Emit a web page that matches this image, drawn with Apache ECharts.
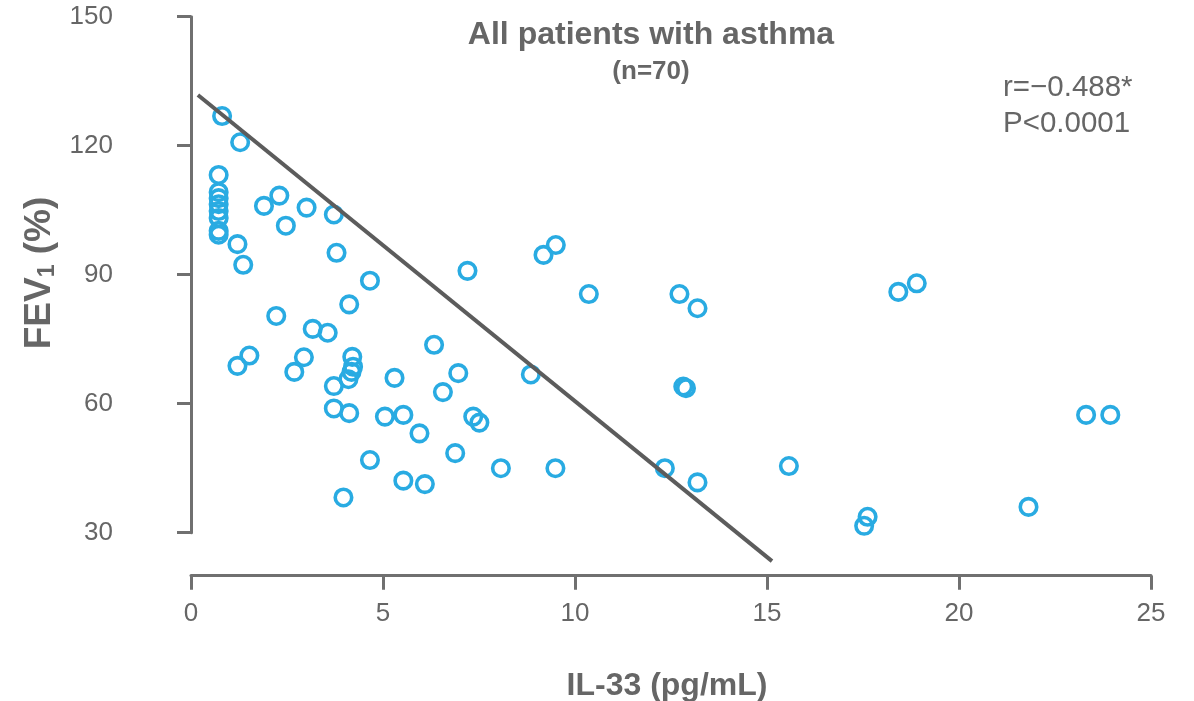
<!DOCTYPE html>
<html>
<head>
<meta charset="utf-8">
<script src="https://cdn.jsdelivr.net/npm/echarts@6/dist/echarts.min.js"></script>
<style>
html,body{margin:0;padding:0;background:#fff;}
#chart{width:1194px;height:701px;}
</style>
</head>
<body>
<div id="chart"></div>
<script>
// IL-33 (pg/mL) values
var il33 = [0.81,1.28,0.72,0.72,0.72,0.72,0.72,0.72,0.72,0.72,
  1.90,2.30,3.01,3.72,2.47,1.21,1.36,3.79,4.66,7.20,
  4.12,2.22,3.17,3.56,6.33,1.52,1.21,2.94,2.69,4.20,
  4.22,4.18,4.10,3.72,5.30,6.96,6.56,3.72,4.12,5.05,
  5.53,5.95,7.35,7.51,6.88,4.66,5.53,6.09,3.97,9.18,
  9.50,10.36,12.72,13.19,8.85,12.82,12.89,8.07,9.49,12.34,
  13.19,15.57,18.42,18.90,23.31,23.94,21.81,17.62,17.53];
// FEV1 (%) values
var fev1 = [126.9,120.8,113.2,109.2,107.8,106.4,104.8,103.2,100.2,99.3,
  106.0,108.4,105.6,104.0,101.4,97.1,92.3,95.1,88.6,90.9,
  83.1,80.4,77.4,76.5,73.7,71.2,68.8,70.8,67.4,70.9,
  68.6,67.4,65.7,64.1,66.0,67.1,62.7,58.9,57.8,57.0,
  57.4,53.1,57.0,55.6,48.5,46.9,42.1,41.3,38.2,94.6,
  96.9,85.5,85.5,82.2,66.8,64.0,63.6,45.0,45.0,45.0,
  41.7,45.5,86.0,88.0,57.4,57.4,36.0,33.7,31.6];
// regression line end points
var regX = [0.18, 15.13];
var regY = [131.8, 23.4];
var xTicks = {min:0, max:25, step:5};
var yTicks = {min:30, max:150, step:30};

var points = il33.map(function(v,i){return [v, fev1[i]];});
var regLine = regX.map(function(v,i){return [v, regY[i]];});

var gray = '#666666';
var axisGray = '#707070';
var font = '"Liberation Sans", Arial, sans-serif';

var chart = echarts.init(document.getElementById('chart'), null, {renderer:'canvas'});
chart.setOption({
  animation:false,
  backgroundColor:'#ffffff',
  textStyle:{fontFamily:font},
  grid:{left:191, right:43, top:16.7, bottom:168.3, containLabel:false},
  xAxis:{
    type:'value', min:xTicks.min, max:xTicks.max, interval:xTicks.step,
    offset:43,
    axisLine:{show:true, lineStyle:{color:axisGray, width:3}},
    axisTick:{show:true, length:14, lineStyle:{color:axisGray, width:3}},
    axisLabel:{fontSize:26, color:gray, margin:25, fontFamily:font},
    splitLine:{show:false}
  },
  yAxis:{
    type:'value', min:yTicks.min, max:yTicks.max, interval:yTicks.step,
    offset:55,
    axisLine:{show:true, lineStyle:{color:axisGray, width:3}},
    axisTick:{show:true, length:14, lineStyle:{color:axisGray, width:3}},
    axisLabel:{fontSize:26, color:gray, margin:23, fontFamily:font},
    splitLine:{show:false}
  },
  series:[
    {
      type:'scatter',
      data:points,
      symbol:'circle',
      symbolSize:16.5,
      itemStyle:{color:'rgba(0,0,0,0)', borderColor:'#29abe2', borderWidth:3.6, opacity:1},
      z:2
    },
    {
      type:'line',
      data:regLine,
      symbol:'none',
      clip:false,
      lineStyle:{color:'#5c5c5c', width:4},
      z:3
    }
  ],
  graphic:[
    {type:'text', x:651, y:35, style:{text:'All patients with asthma', font:'bold 32px '+font, fill:gray, align:'center', verticalAlign:'middle'}},
    {type:'text', x:651, y:72, style:{text:'(n=70)', font:'bold 26px '+font, fill:gray, align:'center', verticalAlign:'middle'}},
    {type:'text', x:1003, y:88, style:{text:'r=\u22120.488*', font:'29.5px '+font, fill:gray, align:'left', verticalAlign:'middle'}},
    {type:'text', x:1003, y:124, style:{text:'P<0.0001', font:'29.5px '+font, fill:gray, align:'left', verticalAlign:'middle'}},
    {type:'text', x:667, y:686, style:{text:'IL-33 (pg/mL)', font:'bold 32px '+font, fill:gray, align:'center', verticalAlign:'middle'}},
    {type:'text', x:40, y:273, rotation:Math.PI/2,
     style:{text:'{a|FEV}{s|1}{a| (%)}', align:'center', verticalAlign:'middle', fill:gray,
       rich:{
         a:{font:'bold 37px '+font, fill:gray, fontWeight:'bold', fontSize:37, fontFamily:font},
         s:{font:'bold 23px '+font, fill:gray, fontWeight:'bold', fontSize:23, fontFamily:font, padding:[15,0,0,0]}
       }}}
  ]
});
</script>
</body>
</html>
